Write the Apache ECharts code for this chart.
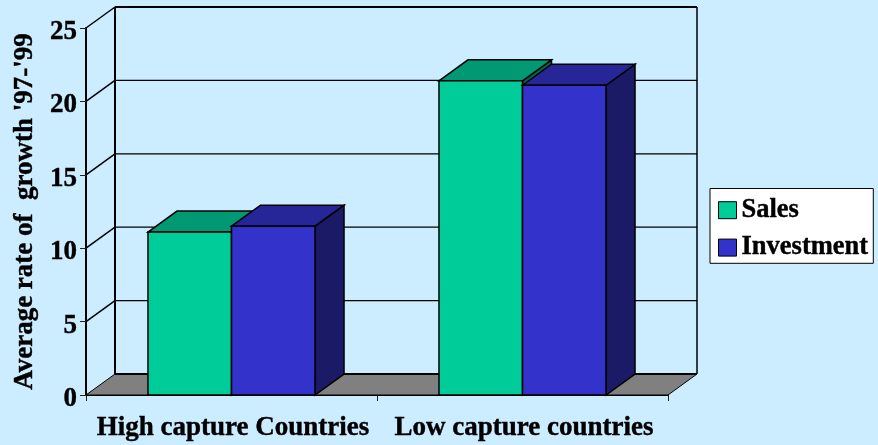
<!DOCTYPE html>
<html>
<head>
<meta charset="utf-8">
<style>html,body{margin:0;padding:0;background:#CCECFF}#chart{width:878px;height:445px}</style>
<script src="https://cdn.jsdelivr.net/npm/echarts@6/dist/echarts.min.js"></script>
</head>
<body>
<div id="chart"></div>
<script>
const categories = ['High capture Countries', 'Low capture countries'];
const salesValues = [11.1, 21.4];
const investmentValues = [11.5, 21.1];
const valueTicks = [0, 5, 10, 15, 20, 25];

// Oblique projection used for the box and the bars
const DEPTH_X = 29;
const DEPTH_Y = -21;
const BAR_SHARE = 0.287;
const INK = '#000';
const SERIF = '"Liberation Serif", "Times New Roman", serif';
const HEAVY_TEXT = { fontFamily: SERIF, fontWeight: 'bold', color: INK, textBorderColor: INK, textBorderWidth: 0.4 };

function poly(points, fill, width) {
  return {
    type: 'polygon',
    shape: { points },
    style: { fill, stroke: INK, lineWidth: width === undefined ? 1.5 : width, lineJoin: 'miter' }
  };
}

function line(a, b, width, color) {
  return {
    type: 'line',
    shape: { x1: a[0], y1: a[1], x2: b[0], y2: b[1] },
    style: { stroke: color || INK, lineWidth: width, lineCap: 'butt' }
  };
}

// Back wall, floor and the gridlines that wrap from the side wall onto the back wall
function renderBox(params, api) {
  const tick = api.value(0);
  const band = api.size([1, 0])[0];
  const left = api.coord([0, tick])[0] - band / 2;
  const right = left + band * categories.length;
  const y = api.coord([0, tick])[1];
  const backY = y + DEPTH_Y;
  const children = [];
  if (tick === valueTicks[0]) {
    children.push(poly([[left, y], [left + DEPTH_X, backY], [right + DEPTH_X, backY], [right, y]], '#808080', 1));
    children.push(line([left + DEPTH_X, backY], [right + DEPTH_X, backY], 2));
    const topY = api.coord([0, valueTicks[valueTicks.length - 1]])[1] + DEPTH_Y;
    children.push(line([left + DEPTH_X, backY], [left + DEPTH_X, topY], 2));
    children.push(line([right + DEPTH_X, backY], [right + DEPTH_X, topY], 1.5));
  } else {
    children.push(line([left, y], [left + DEPTH_X, backY], 1.5));
    children.push(line([left + DEPTH_X, backY], [right + DEPTH_X, backY], tick === valueTicks[valueTicks.length - 1] ? 2 : 1.2));
  }
  return { type: 'group', children };
}

// One extruded bar; slot -1 sits left of the category centre, slot 0 right of it
function makeBarRenderer(slot, faces) {
  return function (params, api) {
    const cat = api.value(0);
    const top = api.coord([cat, api.value(1)]);
    const base = api.coord([cat, 0]);
    const w = api.size([1, 0])[0] * BAR_SHARE;
    const x0 = top[0] + slot * w;
    const x1 = x0 + w;
    const yT = top[1];
    const yB = base[1];
    return {
      type: 'group',
      children: [
        poly([[x1, yT], [x1 + DEPTH_X, yT + DEPTH_Y], [x1 + DEPTH_X, yB + DEPTH_Y], [x1, yB]], faces.side),
        poly([[x0, yT], [x0 + DEPTH_X, yT + DEPTH_Y], [x1 + DEPTH_X, yT + DEPTH_Y], [x1, yT]], faces.top),
        poly([[x0, yT], [x1, yT], [x1, yB], [x0, yB]], faces.front)
      ]
    };
  };
}

const salesFaces = { front: '#00CC99', top: '#009973', side: '#00664D' };
const investmentFaces = { front: '#3333CC', top: '#262699', side: '#1A1A66' };

const chart = echarts.init(document.getElementById('chart'), null, { renderer: 'canvas' });
chart.setOption({
  animation: false,
  backgroundColor: '#CCECFF',
  grid: { left: 86, right: 210, top: 28, bottom: 50, outerBoundsMode: 'none', containLabel: false },
  legend: {
    data: ['Sales', 'Investment'],
    icon: 'rect',
    orient: 'vertical',
    left: 710,
    top: 188.5,
    padding: [8, 5, 2, 8],
    itemWidth: 18,
    itemHeight: 17,
    itemGap: 10,
    itemStyle: { borderColor: INK, borderWidth: 1 },
    backgroundColor: '#fff',
    borderColor: '#000',
    borderWidth: 1,
    selectedMode: false,
    textStyle: Object.assign({ fontSize: 26.5 }, HEAVY_TEXT)
  },
  xAxis: {
    type: 'category',
    data: categories,
    axisLine: { show: true, lineStyle: { color: INK, width: 2 } },
    axisTick: { show: true, length: 6, lineStyle: { color: '#222', width: 1 } },
    axisLabel: Object.assign({ interval: 0, fontSize: 27, margin: 20, hideOverlap: false, padding: [0, 0, 0, 3] }, HEAVY_TEXT)
  },
  yAxis: {
    type: 'value',
    min: 0,
    max: 25,
    interval: 5,
    name: "Average rate of  growth '97-'99",
    nameLocation: 'middle',
    nameGap: 47,
    nameTextStyle: Object.assign({ fontSize: 27 }, HEAVY_TEXT),
    splitLine: { show: false },
    axisLine: { show: true, lineStyle: { color: INK, width: 2 } },
    axisTick: { show: true, length: 6, lineStyle: { color: '#222', width: 1 } },
    axisLabel: Object.assign({ fontSize: 27, margin: 9, verticalAlign: 'top', lineHeight: 8 }, HEAVY_TEXT)
  },
  series: [
    {
      name: 'Box',
      type: 'custom',
      z: 1,
      silent: true,
      data: valueTicks.map(t => [t]),
      encode: { y: 0 },
      renderItem: renderBox
    },
    {
      name: 'Sales',
      type: 'custom',
      z: 2,
      itemStyle: { color: salesFaces.front },
      data: salesValues.map((v, i) => [i, v]),
      encode: { x: 0, y: 1 },
      renderItem: makeBarRenderer(-1, salesFaces)
    },
    {
      name: 'Investment',
      type: 'custom',
      z: 3,
      itemStyle: { color: investmentFaces.front },
      data: investmentValues.map((v, i) => [i, v]),
      encode: { x: 0, y: 1 },
      renderItem: makeBarRenderer(0, investmentFaces)
    }
  ]
});
</script>
</body>
</html>
